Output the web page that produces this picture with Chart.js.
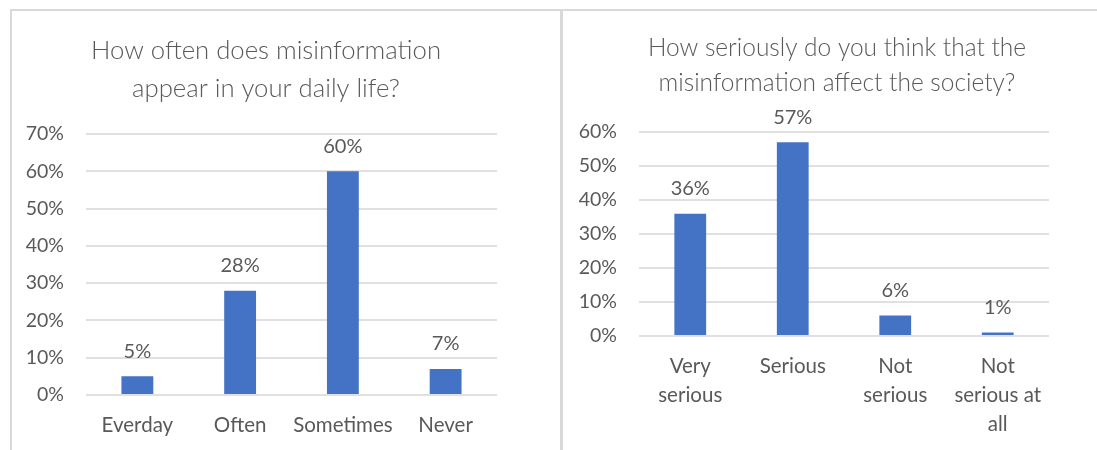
<!DOCTYPE html>
<html>
<head>
<meta charset="utf-8">
<script src="https://cdn.jsdelivr.net/npm/chart.js@4.4.1/dist/chart.umd.min.js"></script>
<style>
    body { margin: 0; background: #fff; width: 1097px; height: 450px; overflow: hidden; position: relative; }
    .panel { position: absolute; top: 9px; border-top: 2px solid #d9d9d9; box-sizing: border-box; }
    #leftPanel { left: 10px; width: 551px; height: 441px; border-left: 2px solid #d9d9d9; }
    #rightPanel { left: 560px; width: 537px; height: 441px; border-left: 3px solid #d9d9d9; }
    canvas { display: block; }
</style>
</head>
<body>
<div class="panel" id="leftPanel"><canvas id="oftenChart" width="549" height="439"></canvas></div>
<div class="panel" id="rightPanel"><canvas id="seriousChart" width="534" height="439"></canvas></div>
<script>
const oftenTitle = ['How often does misinformation', 'appear in your daily life?'];
const oftenLabels = ['Everday', 'Often', 'Sometimes', 'Never'];
const oftenValues = [5, 28, 60, 7];

const seriousTitle = ['How seriously do you think that the', 'misinformation affect the society?'];
const seriousLabels = [['Very', 'serious'], 'Serious', ['Not', 'serious'], ['Not', 'serious at', 'all']];
const seriousValues = [36, 57, 6, 1];

const textColor = '#595959';
const barColor = '#4472C4';
const gridColor = '#e0e0e0';
const fontFamily = 'Lato, "Open Sans", sans-serif';

Chart.defaults.color = textColor;
Chart.defaults.font.family = fontFamily;
Chart.defaults.font.size = 19.5;

// draws the value above each bar, excel style
const valueLabels = {
    id: 'valueLabels',
    afterDatasetsDraw: (chart) => {
        let ctx = chart.ctx;
        ctx.save();
        ctx.fillStyle = textColor;
        ctx.font = '20px ' + fontFamily;
        ctx.textAlign = 'center';
        ctx.textBaseline = 'middle';
        chart.getDatasetMeta(0).data.forEach((bar, i) => {
            ctx.fillText(chart.data.datasets[0].data[i] + '%', bar.x, bar.y - 25);
        });
        ctx.restore();
    }
};

makeChart = (elem, title, labels, values, opts) => {
    return new Chart(elem.getContext('2d'), {
        type: 'bar',
        data: {
            labels: labels,
            datasets: [{
                data: values,
                backgroundColor: barColor,
                barPercentage: 0.31,
                categoryPercentage: 1
            }]
        },
        options: {
            responsive: false,
            animation: false,
            layout: { padding: { left: opts.left, right: opts.right, bottom: 0 } },
            plugins: {
                legend: { display: false },
                tooltip: { enabled: false },
                title: {
                    display: true,
                    text: title,
                    color: textColor,
                    font: { size: opts.titleSize, weight: 300, lineHeight: opts.titleLine },
                    padding: { top: opts.titleTop, bottom: opts.titleBottom }
                }
            },
            scales: {
                x: {
                    grid: { display: false, drawTicks: false },
                    border: { display: false },
                    ticks: {
                        maxRotation: 0,
                        autoSkip: false,
                        padding: 16,
                        font: { size: 20.5, lineHeight: 1.42 }
                    },
                    afterFit: (scale) => { scale.height = opts.xHeight; }
                },
                y: {
                    min: 0,
                    max: opts.max,
                    border: { display: false },
                    grid: { color: gridColor, lineWidth: 2, drawTicks: false },
                    ticks: {
                        stepSize: 10,
                        padding: 22,
                        callback: (v) => v + '%'
                    },
                    afterFit: (scale) => {
                        scale.width = opts.yWidth;
                        // the axis box is narrow so the title centres like excel; don't clip the labels to it
                        scale._computeLabelArea = () => undefined;
                    }
                }
            }
        },
        plugins: [valueLabels]
    });
}

makeChart(document.getElementById('oftenChart'), oftenTitle, oftenLabels, oftenValues,
    { max: 70, left: 23, right: 64, yWidth: 51, xHeight: 55, titleSize: 25.7, titleLine: 1.5, titleTop: 20, titleBottom: 26 });
makeChart(document.getElementById('seriousChart'), seriousTitle, seriousLabels, seriousValues,
    { max: 60, left: 62, right: 48, yWidth: 14, xHeight: 114, titleSize: 24.5, titleLine: 1.45, titleTop: 19, titleBottom: 31 });
</script>
</body>
</html>
